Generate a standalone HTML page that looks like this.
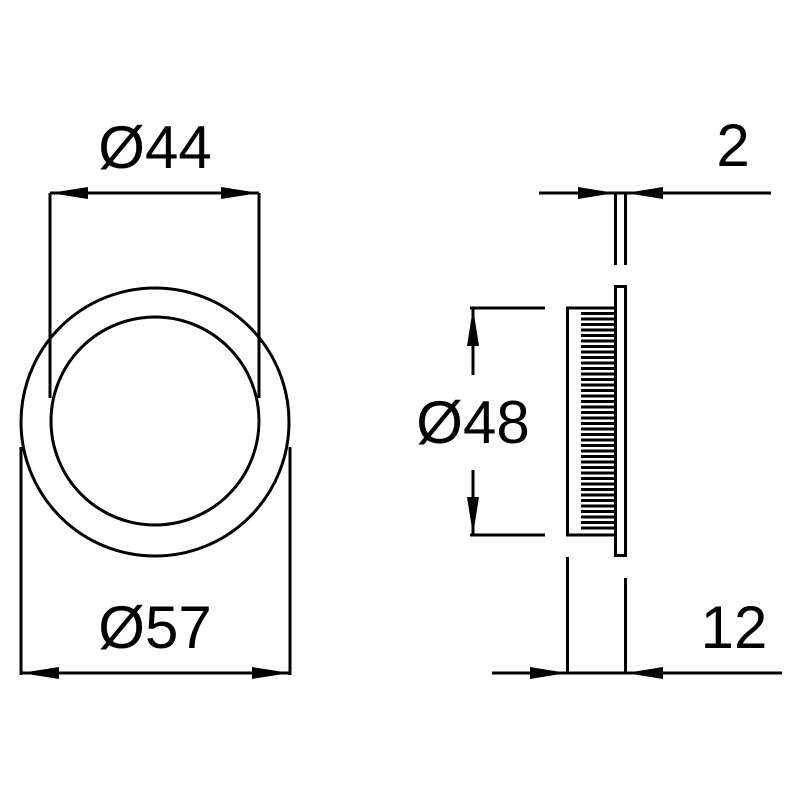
<!DOCTYPE html>
<html><head><style>body{margin:0;background:#fff}svg{display:block}</style></head><body>
<svg width="800" height="800" viewBox="0 0 800 800" xmlns="http://www.w3.org/2000/svg">
<rect width="800" height="800" fill="#fff"/>
<g fill="none" stroke="#000" stroke-width="3">
<circle cx="155" cy="422" r="134"/>
<circle cx="155" cy="421" r="104"/>
<line x1="50" y1="193" x2="50" y2="398"/>
<line x1="259" y1="193" x2="259" y2="398"/>
<line x1="50" y1="193" x2="259" y2="193"/>
<line x1="21" y1="447" x2="21" y2="675"/>
<line x1="290" y1="447" x2="290" y2="675"/>
<line x1="21" y1="673" x2="290" y2="673"/>
<rect x="615.5" y="286.5" width="10" height="269"/>
<polyline points="615,308 567.5,308 567.5,535 615,535"/>
<line x1="470" y1="308" x2="545" y2="308"/>
<line x1="470" y1="535" x2="545" y2="535"/>
<line x1="473" y1="308" x2="473" y2="375"/>
<line x1="473" y1="470" x2="473" y2="535"/>
<line x1="539" y1="193" x2="771" y2="193"/>
<line x1="615.5" y1="193" x2="615.5" y2="265"/>
<line x1="625.5" y1="193" x2="625.5" y2="265"/>
<line x1="567.5" y1="557" x2="567.5" y2="673"/>
<line x1="625.5" y1="578" x2="625.5" y2="673"/>
<line x1="492" y1="673" x2="782" y2="673"/>
</g>
<g stroke="#000" stroke-width="3">
<path d="M581 313.5H615M581 319H615M581 324.5H615M581 330H615M581 335.5H615M581 341H615M581 346.5H615M581 352H615M581 357.5H615M581 363H615M581 368.5H615M581 374H615M581 379.5H615M581 385H615M581 390.5H615M581 396H615M581 401.5H615M581 407H615M581 412.5H615M581 418H615M581 423.5H615M581 429H615M581 434.5H615M581 440H615M581 445.5H615M581 451H615M581 456.5H615M581 462H615M581 467.5H615M581 473H615M581 478.5H615M581 484H615M581 489.5H615M581 495H615M581 500.5H615M581 506H615M581 511.5H615M581 517H615M581 522.5H615M581 528H615"/>
</g>
<g fill="#000">
<polygon points="50,193 88,187 88,199"/>
<polygon points="259,193 221,187 221,199"/>
<polygon points="21,673 59,667 59,679"/>
<polygon points="290,673 252,667 252,679"/>
<polygon points="473,308 467,346 479,346"/>
<polygon points="473,535 467,497 479,497"/>
<polygon points="615,193 578,187 578,199"/>
<polygon points="626,193 663,187 663,199"/>
<polygon points="567,673 530,667 530,679"/>
<polygon points="626,673 663,667 663,679"/>
</g>
<g font-family="Liberation Sans, sans-serif" font-size="60" fill="#000">
<text x="155" y="168" text-anchor="middle">Ø44</text>
<text x="155" y="648" text-anchor="middle">Ø57</text>
<text x="473" y="443" text-anchor="middle">Ø48</text>
<text x="733" y="166" text-anchor="middle">2</text>
<text x="734" y="648" text-anchor="middle">12</text>
</g>
</svg>
</body></html>
